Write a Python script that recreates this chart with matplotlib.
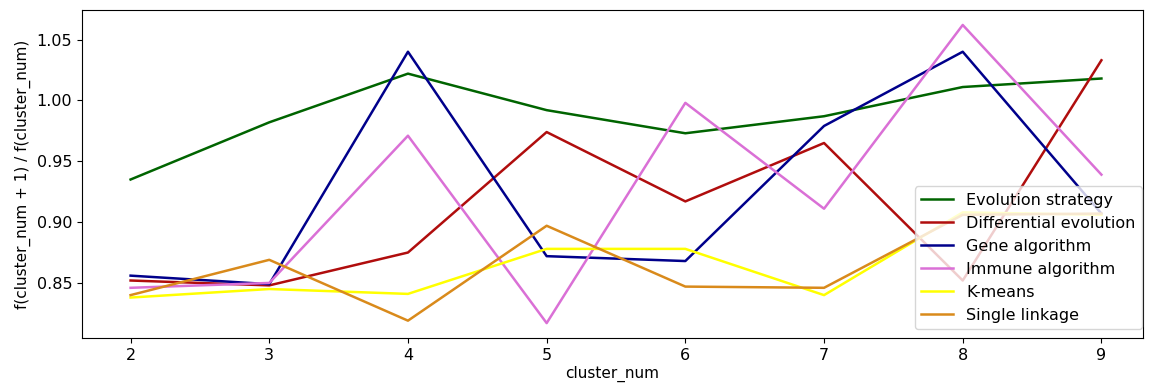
import matplotlib
matplotlib.use('Agg')
import matplotlib.pyplot as plt

# ratio f(k+1)/f(k) for each clustering method
cluster_num = [2, 3, 4, 5, 6, 7, 8, 9]

evolution_strategy = [0.935, 0.982, 1.022, 0.992, 0.973, 0.987, 1.011, 1.018]
differential_evolution = [0.852, 0.848, 0.875, 0.974, 0.917, 0.965, 0.852, 1.033]
gene_algorithm = [0.856, 0.849, 1.040, 0.872, 0.868, 0.979, 1.040, 0.907]
immune_algorithm = [0.846, 0.850, 0.971, 0.817, 0.998, 0.911, 1.062, 0.939]
k_means = [0.838, 0.845, 0.841, 0.878, 0.878, 0.840, 0.908, 0.906]
single_linkage = [0.840, 0.869, 0.819, 0.897, 0.847, 0.846, 0.906, 0.907]

plt.rcParams['font.size'] = 11.5

fig = plt.figure(figsize=(11.49, 3.87), dpi=100)
ax = fig.add_axes([0.0714, 0.1266, 0.9234, 0.8474])

lw = 1.8
ax.plot(cluster_num, evolution_strategy, color='darkgreen', lw=lw, label='Evolution strategy')
ax.plot(cluster_num, differential_evolution, color='#b00d0d', lw=lw, label='Differential evolution')
ax.plot(cluster_num, gene_algorithm, color='darkblue', lw=lw, label='Gene algorithm')
ax.plot(cluster_num, immune_algorithm, color='orchid', lw=lw, label='Immune algorithm')
ax.plot(cluster_num, k_means, color='yellow', lw=lw, label='K-means')
ax.plot(cluster_num, single_linkage, color='#d98a1b', lw=lw, label='Single linkage')

ax.set_xlim(1.65, 9.3)
ax.set_yticks([0.85, 0.90, 0.95, 1.00, 1.05])
ax.set_xlabel('cluster_num', fontsize=11, labelpad=2)
ax.set_ylabel('f(cluster_num + 1) / f(cluster_num)', fontsize=11)
ax.legend(loc='lower right', bbox_to_anchor=(0.999, 0.027), borderaxespad=0)

fig.savefig('out.png', dpi=100)
